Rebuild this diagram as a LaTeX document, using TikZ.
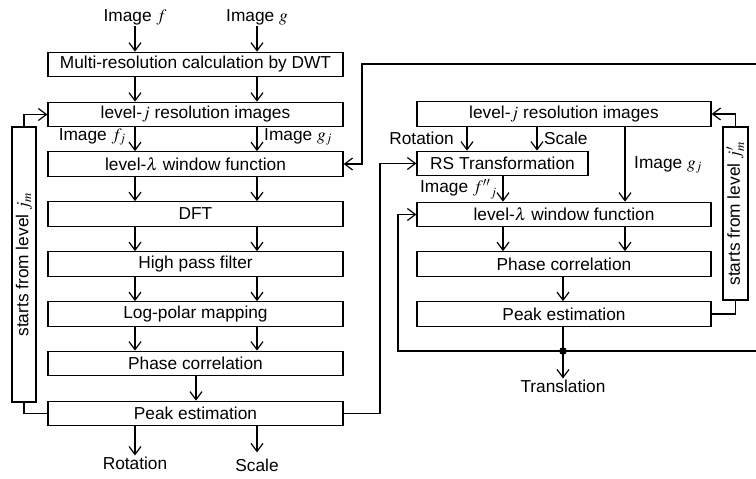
\documentclass[tikz,border=0pt]{standalone}
\usepackage{mathptmx}
\usepackage{fontspec}
\setmainfont{Liberation Sans}
\usetikzlibrary{arrows.meta}
\begin{document}
\begin{tikzpicture}[x=1pt,y=-1pt,
  every node/.append style={font=\fontsize{17.3}{18}\selectfont},
  blk/.style={draw,line width=1.3pt,inner sep=0pt,minimum height=24.5pt},
  wide/.style={blk,minimum width=295pt},
  lbl/.style={inner sep=1pt},
  ln/.style={line width=1.3pt},
  arr/.style={ln,-{Straight Barb[length=8pt,width=12pt,line width=1.2pt]}}]
\useasboundingbox (0,0) rectangle (756,479);
% column coordinates
\coordinate (cf) at (135,0);
\coordinate (cg) at (257,0);
\coordinate (cc) at (196,0);
\coordinate (rr) at (467,0);
\coordinate (rs) at (537,0);
\coordinate (rf) at (503,0);
\coordinate (rg) at (625,0);
\coordinate (rc) at (563,0);
% left column
\node[lbl] (imf) at (135,17) {Image $f$};
\node[lbl] (img) at (257,17) {Image $g$};
\node[wide] (dwt) at (195.5,64.5) {Multi-resolution calculation by DWT};
\node[wide] (lvj) at (195.5,114.5) {level-$j$ resolution images};
\node[wide] (lvl) at (195.5,164) {level-$\lambda$ window function};
\node[wide] (dft) at (195.5,214) {DFT};
\node[wide] (hpf) at (195.5,264) {High pass filter};
\node[wide] (lpm) at (195.5,314) {Log-polar mapping};
\node[wide] (pc) at (195.5,363.5) {Phase correlation};
\node[wide] (pe) at (195.5,413.5) {Peak estimation};
\node[lbl,anchor=east] (imfj) at (127,137) {Image $f_j$};
\node[lbl,anchor=west] (imgj) at (263,137) {Image $g_j$};
\node[lbl] (rot) at (135,463) {Rotation};
\node[lbl] (sca) at (257,465) {Scale};
\node[draw,ln,inner sep=0pt,minimum width=275pt,minimum height=24pt,rotate=90] (lpl) at (24,264.5) {starts from level $j_m$};
% left arrows
\draw[arr] (imf.south -| cf) -- (dwt.north -| cf);
\draw[arr] (img.south -| cg) -- (dwt.north -| cg);
\foreach \a/\b in {dwt/lvj,lvj/lvl,lvl/dft,dft/hpf,hpf/lpm,lpm/pc}{
  \draw[arr] (\a.south -| cf) -- (\b.north -| cf);
  \draw[arr] (\a.south -| cg) -- (\b.north -| cg);
}
\draw[arr] (pc.south -| cc) -- (pe.north -| cc);
\draw[arr] (pe.south -| cf) -- (rot.north -| cf);
\draw[arr] (pe.south -| cg) -- ++(0,26);
\draw[arr] (lpl.east) |- (lvj.west);
\draw[ln] (lpl.west) |- (pe.west);
% right column
\node[blk,minimum width=294pt] (lvj2) at (564,114) {level-$j$ resolution images};
\node[blk,minimum width=171pt] (rst) at (502.5,163.5) {RS Transformation};
\node[blk,minimum width=294pt] (lvl2) at (564,214.5) {level-$\lambda$ window function};
\node[blk,minimum width=294pt] (pc2) at (564,264) {Phase correlation};
\node[blk,minimum width=294pt] (pe2) at (564,314) {Peak estimation};
\node[lbl,anchor=east] (rot2) at (455,138) {Rotation};
\node[lbl,anchor=west] (sca2) at (543,138) {Scale};
\node[lbl,anchor=west] (imgj2) at (633,165) {Image $g_j$};
\node[inner sep=0pt,anchor=east] (imfj2) at (497,189.5) {Image ${f''}_{j}$};
\node[draw,ln,inner sep=0pt,minimum width=173pt,minimum height=25pt,rotate=90] (lpr) at (735.5,213.5) {starts from level $j'_m$};
\node[lbl] (tra) at (563,386) {Translation};
\draw[arr] (lvj2.south -| rr) -- (rst.north -| rr);
\draw[arr] (lvj2.south -| rs) -- (rst.north -| rs);
\draw[arr] (lvj2.south -| rg) -- (lvl2.north -| rg);
\draw[arr] (rst.south -| rf) -- (lvl2.north -| rf);
\draw[arr] (lvl2.south -| rf) -- (pc2.north -| rf);
\draw[arr] (lvl2.south -| rg) -- (pc2.north -| rg);
\draw[arr] (pc2.south -| rc) -- (pe2.north -| rc);
\coordinate (dot) at (563,351);
\draw[ln] (pe2.south -| rc) -- (dot);
\fill (dot) circle (3.8pt);
\draw[arr] (dot) -- (tra.north);
\draw[arr] (lpr.east) |- (lvj2.east);
\draw[ln] (lpr.west) |- (pe2.east);
% loops
\coordinate (lx) at (380,0);
\draw[arr] (pe.east) -| (lx |- rst.west) -- (rst.west);
\coordinate (dx) at (398,0);
\draw[arr] (dot) -| (dx |- lvl2.west) -- (lvl2.west);
\coordinate (tx) at (362,64);
\coordinate (ex) at (759,0);
\draw[arr] (dot) -| (ex |- tx) -- (tx) |- (lvl.east);
\end{tikzpicture}
\end{document}
